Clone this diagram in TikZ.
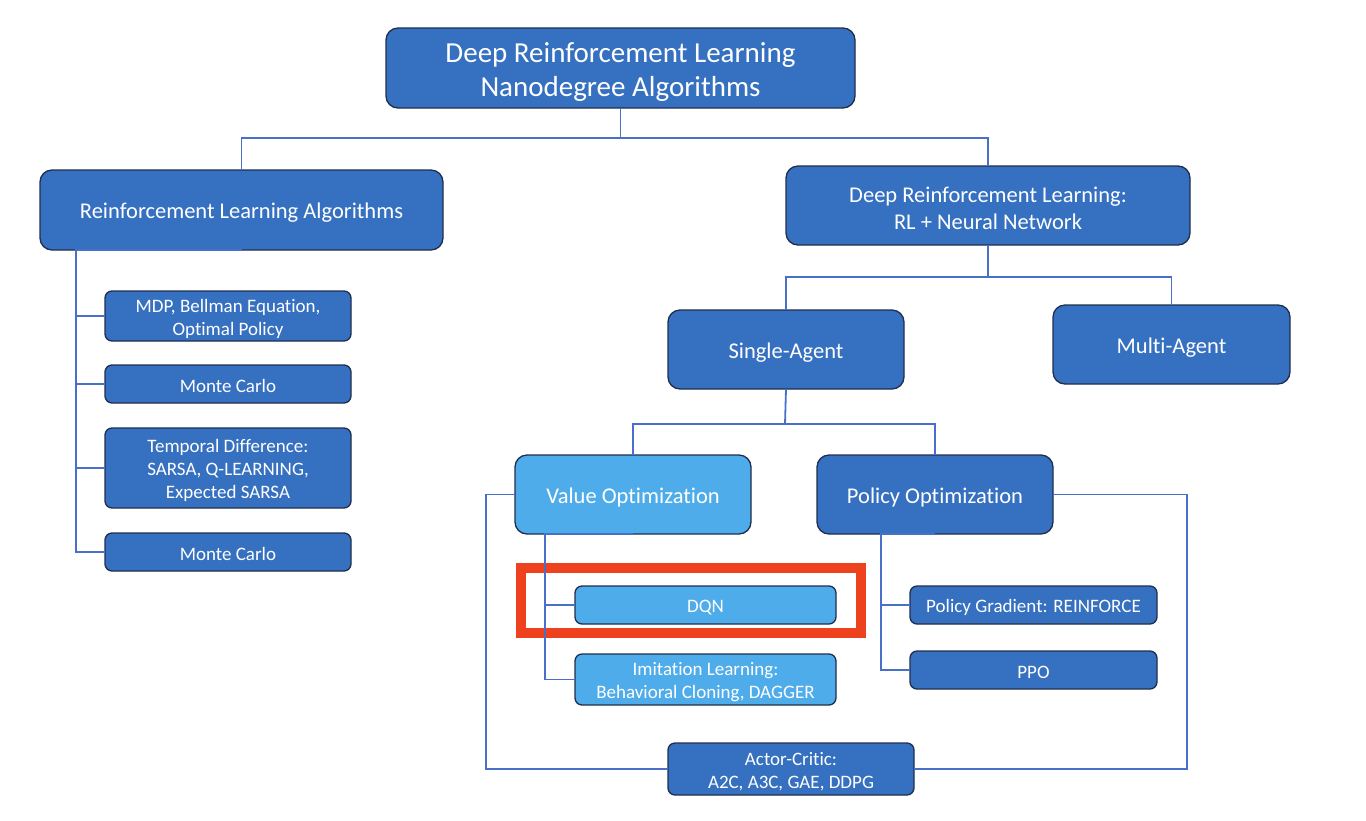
\documentclass[tikz,border=0pt]{standalone}
\usepackage{fontspec}
\setmainfont{Carlito}[Ligatures={NoCommon}]
\definecolor{boxdark}{RGB}{54,112,192}
\definecolor{boxlight}{RGB}{78,172,234}
\definecolor{boxedge}{RGB}{32,46,78}
\definecolor{linkblue}{RGB}{72,112,200}
\definecolor{hilite}{RGB}{238,66,30}
% taller first line so that the text sits at the optical centre of its box
\newcommand{\boxstrut}{\rule{0pt}{0.95em}}
\tikzset{
  box/.style={draw=boxedge, line width=1.3pt, fill=boxdark, text=white,
    align=center, inner sep=0pt, outer sep=0pt},
  bigbox/.style={box, rounded corners=12pt},
  smallbox/.style={box, rounded corners=7pt,
    font=\fontsize{19}{23}\selectfont},
  lightbox/.style={fill=boxlight},
  midtext/.style={font=\fontsize{22.5}{27}\selectfont},
  conn/.style={draw=linkblue, line width=1.8pt},
}
\begin{document}
\begin{tikzpicture}[x=1pt,y=-1pt]
\useasboundingbox (0,0) rectangle (1366,820);

% top level
\node[bigbox, minimum width=469pt, minimum height=80pt,
  font=\fontsize{29}{34}\selectfont] (top) at (620.5,68)
  {\boxstrut Deep Reinforcement Learning\\Nanodegree Algorithms};

% left branch: classical RL
\node[bigbox, midtext, minimum width=403pt, minimum height=80pt] (rl) at (241.5,210)
  {\boxstrut Reinforcement Learning Algorithms};
\node[smallbox, minimum width=246pt, minimum height=50pt] (mdp) at (228,316)
  {\boxstrut MDP, Bellman Equation,\\Optimal Policy};
\node[smallbox, minimum width=246pt, minimum height=38pt] (mc1) at (228,384)
  {\boxstrut Monte Carlo};
\node[smallbox, minimum width=246pt, minimum height=80pt] (td) at (228,468)
  {\boxstrut Temporal Difference:\\SARSA, Q-LEARNING,\\Expected SARSA};
\node[smallbox, minimum width=246pt, minimum height=38pt] (mc2) at (228,552)
  {\boxstrut Monte Carlo};

% right branch: deep RL
\node[bigbox, midtext, minimum width=404pt, minimum height=79pt] (drl) at (988,205.5)
  {\boxstrut Deep Reinforcement Learning:\\RL + Neural Network};
\node[bigbox, midtext, minimum width=236pt, minimum height=79pt] (single) at (786,349.5)
  {\boxstrut Single-Agent};
\node[bigbox, midtext, minimum width=237pt, minimum height=79pt] (multi) at (1171.5,344.5)
  {\boxstrut Multi-Agent};
\node[bigbox, midtext, lightbox, minimum width=236pt, minimum height=79pt] (value) at (633,494.5)
  {\boxstrut Value Optimization};
\node[bigbox, midtext, minimum width=236pt, minimum height=79pt] (policy) at (935,494.5)
  {\boxstrut Policy Optimization};
\node[smallbox, lightbox, minimum width=261pt, minimum height=38pt] (dqn) at (705.5,605)
  {\boxstrut DQN};
\node[smallbox, lightbox, minimum width=261pt, minimum height=51pt] (imit) at (705.5,679.5)
  {\boxstrut Imitation Learning:\\Behavioral Cloning, DAGGER};
\node[smallbox, minimum width=247pt, minimum height=38pt] (pg) at (1033.5,605)
  {\boxstrut Policy Gradient: REINFORCE};
\node[smallbox, minimum width=247pt, minimum height=38pt] (ppo) at (1033.5,670)
  {\boxstrut PPO};
\node[smallbox, minimum width=246pt, minimum height=52pt] (ac) at (791,769)
  {\boxstrut Actor-Critic:\\A2C, A3C, GAE, DDPG};

% highlight frame around DQN
\draw[hilite, line width=10pt] (520.5,568) rectangle (861,633);

% junction points of the elbow connectors
\coordinate (jtop) at (620.5,138);
\coordinate (rltrunk) at (76,250);
\coordinate (jdrl) at (988,277);
\coordinate (jsingle) at (785,424);
\coordinate (vtrunk) at (545,534);
\coordinate (ptrunk) at (881,534);
\coordinate (vleft) at (486,769);
\coordinate (pright) at (1187,769);

\draw[conn] (top.south) -- (jtop) -| (rl.north);
\draw[conn] (jtop) -| (drl.north);

\draw[conn] (rl.south) -- (rltrunk) |- (mdp.west);
\draw[conn] (rltrunk) |- (mc1.west);
\draw[conn] (rltrunk) |- (td.west);
\draw[conn] (rltrunk) |- (mc2.west);

\draw[conn] (drl.south) -- (jdrl) -| (single.north);
\draw[conn] (jdrl) -| (multi.north);

\draw[conn] (single.south) -- (jsingle) -| (value.north);
\draw[conn] (jsingle) -| (policy.north);

\draw[conn] (value.south) -- (vtrunk) |- (dqn.west);
\draw[conn] (vtrunk) |- (imit.west);

\draw[conn] (policy.south) -- (ptrunk) |- (pg.west);
\draw[conn] (ptrunk) |- (ppo.west);

\draw[conn] (value.west) -| (vleft) -- (ac.west);
\draw[conn] (policy.east) -| (pright) -- (ac.east);
\end{tikzpicture}
\end{document}
